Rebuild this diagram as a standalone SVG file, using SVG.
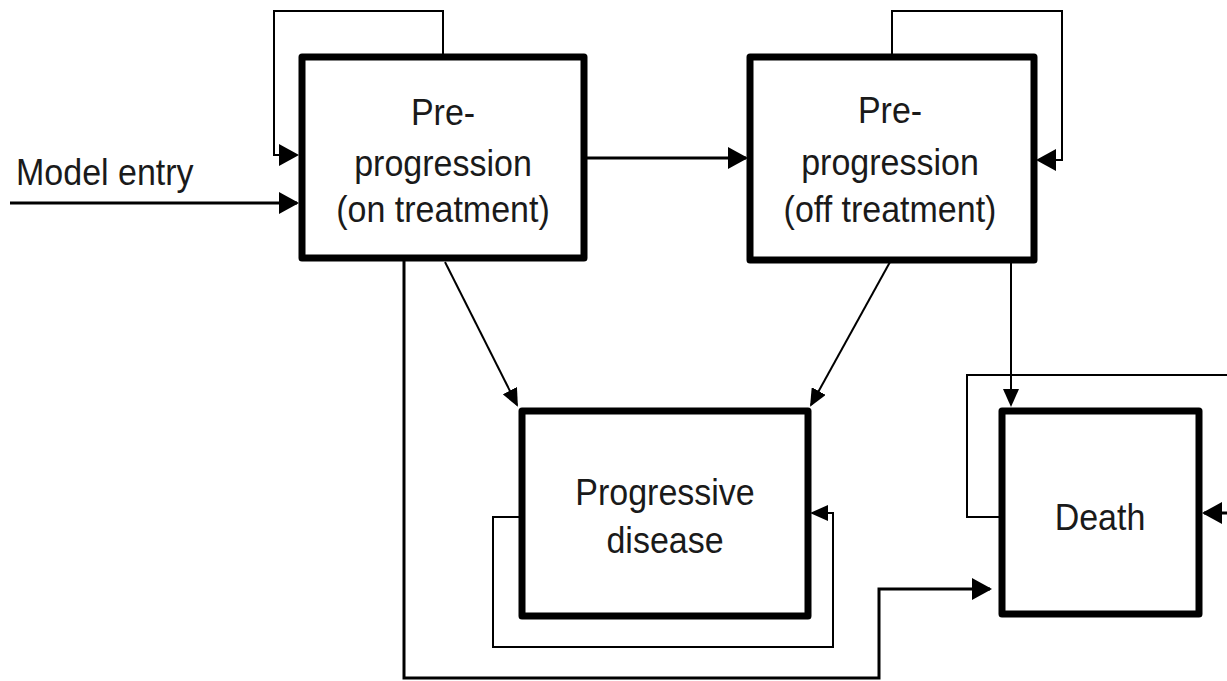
<svg xmlns="http://www.w3.org/2000/svg" width="1227" height="681" viewBox="0 0 1227 681">
<style>
.box{fill:#fff;stroke:#000;stroke-width:7;stroke-linejoin:round}
.lbl{font-family:"Liberation Sans",Arial,sans-serif;font-size:34px;fill:#1a1a1a;text-anchor:middle}
.c{fill:none;stroke:#000;stroke-linejoin:miter}
.t2{stroke-width:2}
.t3{stroke-width:3}
.t4{stroke-width:3.5}
</style>
<defs>
<marker id="ah" viewBox="0 0 20 22" refX="18" refY="11" markerWidth="20" markerHeight="22" markerUnits="userSpaceOnUse" orient="auto">
<path d="M0,0 L20,11 L0,22 z" fill="#000"/>
</marker>
<marker id="as" viewBox="0 0 18 16" refX="16" refY="8" markerWidth="18" markerHeight="16" markerUnits="userSpaceOnUse" orient="auto">
<path d="M0,0 L18,8 L0,16 z" fill="#000"/>
</marker>
</defs>
<rect width="1227" height="681" fill="#fff"/>
<g id="connectors">
<path class="c t2" d="M443,57 V11 H274 V155 H297" marker-end="url(#ah)"/>
<path class="c t3" d="M10,203 H297" marker-end="url(#ah)"/>
<path class="c t3" d="M586,158 H746" marker-end="url(#ah)"/>
<path class="c t2" d="M892,57 V11 H1062 V160 H1038" marker-end="url(#ah)"/>
<path class="c t2" d="M445,262 L517,405" marker-end="url(#as)"/>
<path class="c t2" d="M890,262 L811,405" marker-end="url(#as)"/>
<path class="c t2" d="M1011,262 V405" marker-end="url(#as)"/>
<path class="c t2" d="M519,517 H493 V647 H833 V513 H812" marker-end="url(#as)"/>
<path class="c t3" d="M404,255 V678 H879 V589 H990" marker-end="url(#ah)"/>
<path class="c t2" d="M999,517 H967 V375 H1227"/>
<path class="c t3" d="M1227,513 H1204" marker-end="url(#ah)"/>
</g>
<g id="node-pre-on">
<rect class="box" x="302" y="57" width="282" height="201"/>
<text class="lbl" transform="translate(443,125) scale(1,1.1)">Pre-</text>
<text class="lbl" transform="translate(443,176) scale(1,1.1)">progression</text>
<text class="lbl" transform="translate(443,222) scale(1,1.1)">(on treatment)</text>
</g>
<g id="node-pre-off">
<rect class="box" x="750" y="57" width="284" height="203"/>
<text class="lbl" transform="translate(890,123) scale(1,1.1)">Pre-</text>
<text class="lbl" transform="translate(890,175) scale(1,1.1)">progression</text>
<text class="lbl" transform="translate(890,222) scale(1,1.1)">(off treatment)</text>
</g>
<g id="node-progressive">
<rect class="box" x="522" y="411" width="286" height="205"/>
<text class="lbl" transform="translate(665,505) scale(1,1.1)">Progressive</text>
<text class="lbl" transform="translate(665,553) scale(1,1.1)">disease</text>
</g>
<g id="node-death">
<rect class="box" x="1002" y="411" width="197" height="203"/>
<text class="lbl" transform="translate(1100,530) scale(1,1.1)">Death</text>
</g>
<g id="label-entry">
<text class="lbl" style="text-anchor:start" transform="translate(16,185) scale(1,1.1)">Model entry</text>
</g>
</svg>
